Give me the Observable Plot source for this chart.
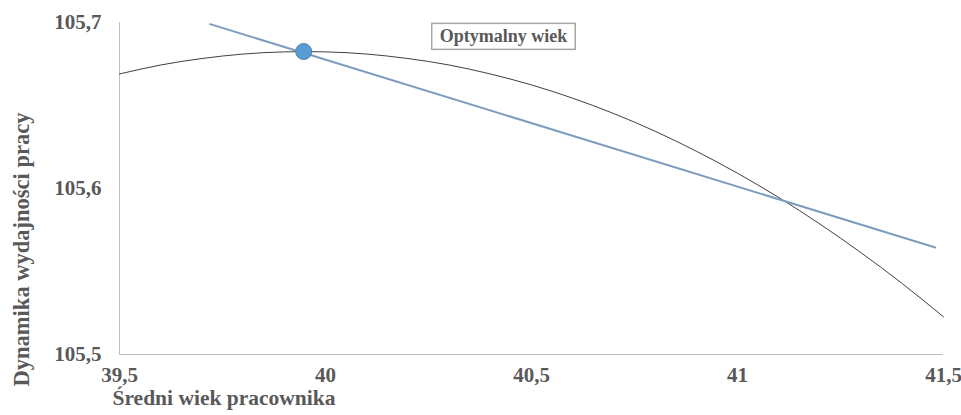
<!DOCTYPE html>
<html><head><meta charset="utf-8">
<script src="https://cdn.jsdelivr.net/npm/d3@7"></script>
<script src="https://cdn.jsdelivr.net/npm/@observablehq/plot@0.6"></script>
<style>
body{margin:0;background:#fff;}
#chart{position:relative;width:961px;height:415px;}
#chart svg text{font-family:"Liberation Serif","Times New Roman",serif !important;font-weight:bold;}
</style></head><body><div id="chart"></div>
<script>
const curveX = [39.5,39.6,39.7,39.8,39.9,40.0,40.1,40.2,40.3,40.4,40.5,40.6,40.7,40.8,40.9,41.0,41.1,41.2,41.3,41.4,41.5];
const curveY = [105.6690,105.6744,105.6783,105.6810,105.6823,105.6823,105.6810,105.6783,105.6744,105.6690,105.6624,105.6544,105.6451,105.6345,105.6225,105.6092,105.5946,105.5786,105.5613,105.5427,105.5227];
const lineX = [39.72, 41.48];
const lineY = [105.699, 105.5645];
const optX = [39.947];
const optY = [105.6825];
const labelX = [40.432];
const labelY = [105.6915];
const labelText = ["Optymalny wiek"];
const xTicks = [39.5, 40, 40.5, 41, 41.5];
const yTicks = [105.5, 105.6, 105.7];
const xTitle = ["Średni wiek pracownika"];
const yTitle = ["Dynamika wydajności pracy"];

const curve = curveX.map((x,i)=>({x, y: curveY[i]}));
const line = lineX.map((x,i)=>({x, y: lineY[i]}));
const opt = optX.map((x,i)=>({x, y: optY[i]}));
const label = labelX.map((x,i)=>({x, y: labelY[i], t: labelText[i]}));
const fmt = d => String(d).replace(".", ",");
const grey = "#595959";

const plot = Plot.plot({
  width: 961, height: 415,
  marginLeft: 119, marginRight: 18, marginTop: 22, marginBottom: 61,
  style: {fontSize: "21px", color: grey, background: "#fff", overflow: "visible"},
  x: {domain: [39.5, 41.5], ticks: xTicks, tickFormat: fmt, tickSize: 0, tickPadding: 13, label: null},
  y: {domain: [105.5, 105.7], ticks: yTicks, tickFormat: fmt, tickSize: 0, tickPadding: 18, label: null},
  marks: [
    Plot.ruleX([39.5], {stroke: "#bfbfbf", strokeWidth: 1}),
    Plot.ruleY([105.5], {stroke: "#bfbfbf", strokeWidth: 1}),
    Plot.line(curve, {x: "x", y: "y", curve: "natural", stroke: "#404040", strokeWidth: 1}),
    Plot.line(line, {x: "x", y: "y", stroke: "#7d9dbf", strokeWidth: 2}),
    Plot.dot(opt, {x: "x", y: "y", r: 8, fill: "#5b9bd5", stroke: "#4f7fa8", strokeWidth: 1}),
    Plot.text(label, {x: "x", y: "y", text: "t", fill: grey, fontSize: 18, className: "optlabel"}),
    Plot.text(xTitle, {frameAnchor: "bottom-left", textAnchor: "start", dx: -7, dy: 50, fill: grey, fontSize: 21.5}),
    Plot.text(yTitle, {frameAnchor: "left", textAnchor: "middle", rotate: -90, dx: -98, dy: 61, fill: grey, fontSize: 22.5})
  ]
});
document.getElementById("chart").appendChild(plot);
plot.querySelectorAll(".optlabel text").forEach(t => {
  const b = t.getBBox();
  const r = document.createElementNS("http://www.w3.org/2000/svg", "rect");
  r.setAttribute("x", b.x - 8); r.setAttribute("y", b.y - 3);
  r.setAttribute("width", b.width + 16); r.setAttribute("height", b.height + 6);
  r.setAttribute("fill", "#fff"); r.setAttribute("stroke", "#a6a6a6"); r.setAttribute("stroke-width", 1.5);
  const tr = t.getAttribute("transform");
  if (tr) r.setAttribute("transform", tr);
  t.parentNode.insertBefore(r, t);
});
</script></body></html>
